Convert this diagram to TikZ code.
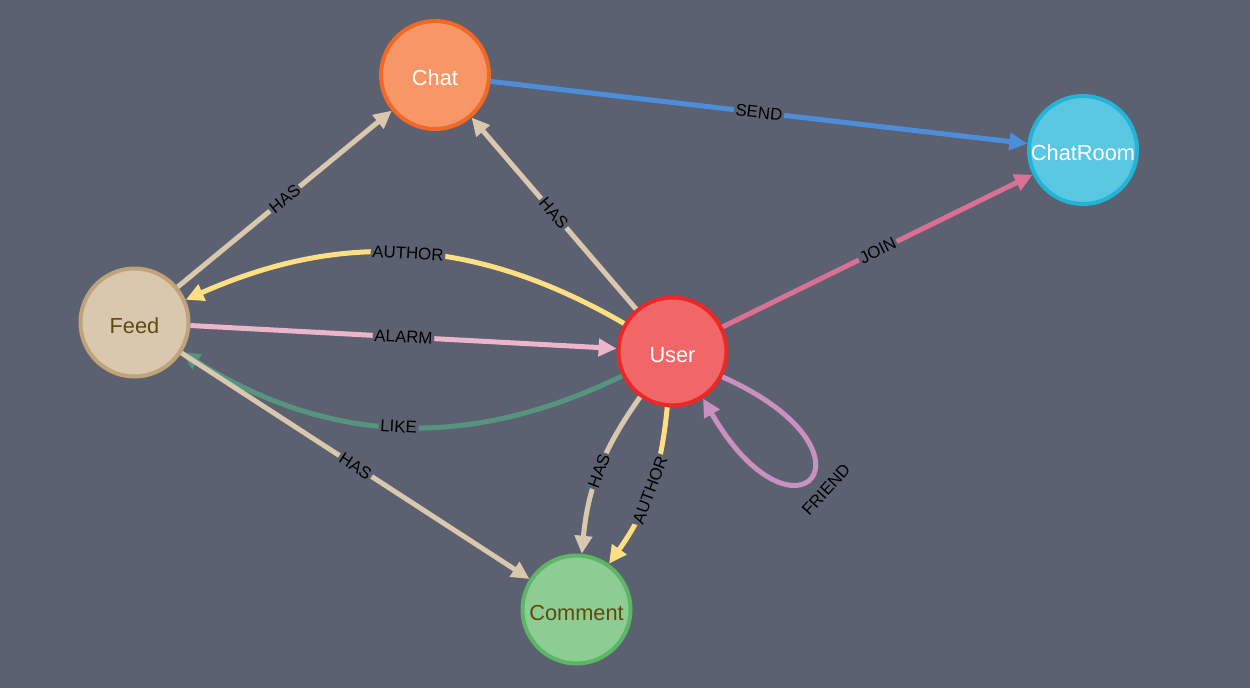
\documentclass[tikz,border=0pt]{standalone}
\usepackage{fontspec}
\setmainfont{Liberation Sans}
\usetikzlibrary{arrows.meta}
\definecolor{bgcol}{HTML}{5B6171}
\definecolor{chatfill}{HTML}{F79767}
\definecolor{chatline}{HTML}{F36924}
\definecolor{roomfill}{HTML}{5BC8E3}
\definecolor{roomline}{HTML}{23B3D7}
\definecolor{feedfill}{HTML}{D9C8AE}
\definecolor{feedline}{HTML}{C0A378}
\definecolor{userfill}{HTML}{F16667}
\definecolor{userline}{HTML}{EB2728}
\definecolor{commfill}{HTML}{8DCC93}
\definecolor{commline}{HTML}{5DB665}
\definecolor{darktext}{HTML}{604A0E}
\definecolor{hascol}{HTML}{D9C8AE}
\definecolor{sendcol}{HTML}{4C8EDA}
\definecolor{joincol}{HTML}{DA7194}
\definecolor{authorcol}{HTML}{FFDF81}
\definecolor{alarmcol}{HTML}{ECB5C9}
\definecolor{likecol}{HTML}{569480}
\definecolor{friendcol}{HTML}{C990C0}

\begin{document}
\begin{tikzpicture}[x=0.02cm,y=-0.02cm,
	entity/.style={circle,minimum size=2.16cm,inner sep=0pt,line width=0.08cm,text height=0.43cm,text depth=0pt,font=\fontsize{12.4}{14}\selectfont},
	rel/.style={-{Triangle[length=0.36cm,width=0.34cm]},line width=0.1cm},
	tag/.style={fill=bgcol,inner sep=1pt,sloped,text=black,font=\fontsize{9.6}{11}\selectfont}]
	\fill[bgcol] (0,0) rectangle (1250,688);
	\node[entity,fill=chatfill,draw=chatline,text=white] (chat) at (435,75) {Chat};
	\node[entity,fill=roomfill,draw=roomline,text=white] (room) at (1083,150) {ChatRoom};
	\node[entity,fill=feedfill,draw=feedline,text=darktext] (feed) at (134.5,322.5) {Feed};
	\node[entity,fill=userfill,draw=userline,text=white] (user) at (672.5,351.5) {User};
	\node[entity,fill=commfill,draw=commline,text=darktext] (comm) at (576.5,609.5) {Comment};
	\draw[rel,color=hascol] (feed) -- node[tag] {HAS} (chat);
	\draw[rel,color=hascol] (user) -- node[tag] {HAS} (chat);
	\draw[rel,color=sendcol] (chat) -- node[tag] {SEND} (room);
	\draw[rel,color=joincol] (user) -- node[tag] {JOIN} (room);
	\draw[rel,color=authorcol] (user) to[bend right=27] node[tag] {AUTHOR} (feed);
	\draw[rel,color=alarmcol] (feed) -- node[tag] {ALARM} (user);
	\draw[rel,color=likecol] (user) to[bend left=29] node[tag] {LIKE} (feed);
	\draw[rel,color=hascol] (feed) -- node[tag] {HAS} (comm);
	\draw[rel,color=hascol] (user) to[bend right=15] node[tag] {HAS} (comm);
	\draw[rel,color=authorcol] (user) to[bend left=15] node[tag] {AUTHOR} (comm);
	\draw[rel,color=friendcol] (user.-27) .. controls +(-24:3.7cm) and +(-60:3.7cm) .. node[tag,fill=none,below=6pt] {FRIEND} (user.-57);
\end{tikzpicture}
\end{document}
